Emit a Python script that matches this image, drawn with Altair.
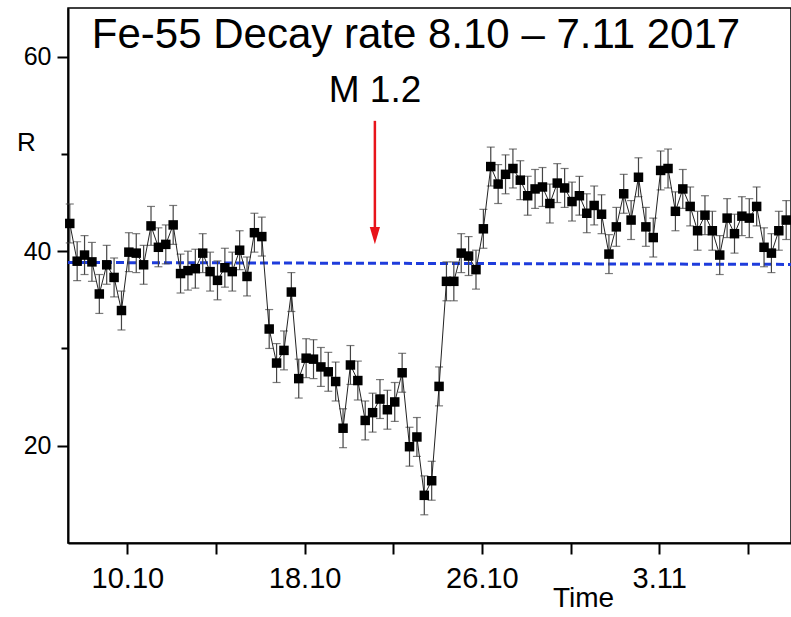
import altair as alt
import pandas as pd

# ---- data ----
start_day = 7.40          # day-of-October of first sample
step_day = 1.0 / 3.0      # samples every 8 hours
R = [42.85, 38.97, 39.6, 38.9, 35.6, 38.6, 37.3, 33.9, 39.9, 39.8,
     38.6, 42.6, 40.4, 40.7, 42.7, 37.7, 38.0, 38.2, 39.8, 37.9,
     37.0, 38.3, 37.9, 40.1, 37.4, 41.9, 41.5, 32.0, 28.5, 29.8,
     35.8, 26.9, 29.0, 28.9, 28.1, 27.6, 26.6, 21.8, 28.3, 26.7,
     22.6, 23.4, 24.8, 23.7, 24.5, 27.5, 19.9, 20.9, 14.9, 16.4,
     26.1, 36.9, 36.9, 39.8, 39.5, 38.1, 42.3, 48.7, 46.9, 47.9,
     48.5, 47.3, 45.7, 46.4, 46.6, 44.9, 47.0, 46.5, 45.1, 45.7,
     43.9, 44.7, 43.8, 39.7, 42.5, 45.9, 43.2, 47.6, 42.5, 41.4,
     48.3, 48.5, 44.1, 46.4, 44.6, 42.1, 43.7, 42.1, 39.6, 43.4,
     41.8, 43.6, 43.4, 44.6, 40.4, 39.8, 42.1, 43.2]
R_err = 2.0

base_day = [7.32, 39.95]
base_R = [38.84, 38.64]

flare_day = [21.17]
arrow_top = [53.4]
arrow_tip = [41.6]

tick_days = [10, 14, 18, 22, 26, 30, 34, 38]
tick_labels = ["10.10", "", "18.10", "", "26.10", "", "3.11", ""]

title_text = "Fe-55 Decay rate 8.10 \u2013 7.11 2017"
flare_text = "M 1.2"

FONT = "Liberation Sans"

days = [start_day + i * step_day for i in range(len(R))]
df = pd.DataFrame({"day": days, "R": R})
df["lo"] = df["R"] - R_err
df["hi"] = df["R"] + R_err

label_expr = " : ".join(
    f"datum.value == {d} ? '{l}'" for d, l in zip(tick_days, tick_labels)
) + " : ''"

xscale = alt.Scale(domain=[7.32, 39.95], nice=False, zero=False)
yscale = alt.Scale(domain=[10, 65], nice=False, zero=False)

xaxis = alt.Axis(values=tick_days, labelExpr=label_expr, grid=False,
                 tickSize=11, tickWidth=2, tickColor="black",
                 domainColor="black", domainWidth=2,
                 labelFont=FONT, labelFontSize=29, labelColor="black",
                 labelPadding=10, labelAngle=0,
                 title="Time", titleFont=FONT, titleFontSize=28,
                 titleFontWeight="normal", titleColor="black",
                 titleX=515, titleY=63, titleAlign="center",
                 titleBaseline="alphabetic")

yaxis = alt.Axis(values=[20, 30, 40, 50, 60],
                 labelExpr="datum.value % 20 == 0 ? datum.label : ''",
                 grid=False,
                 tickSize=alt.condition("datum.value % 20 == 0", alt.value(11), alt.value(7)),
                 tickWidth=2, tickColor="black",
                 domainColor="black", domainWidth=2,
                 labelFont=FONT, labelFontSize=25, labelColor="black",
                 labelPadding=6,
                 title="R", titleFont=FONT, titleFontSize=26,
                 titleFontWeight="normal", titleColor="black", titleAngle=0,
                 titleX=-42, titleY=142, titleAlign="center",
                 titleBaseline="alphabetic")

x = alt.X("day:Q", scale=xscale, axis=xaxis)
y = alt.Y("R:Q", scale=yscale, axis=yaxis)

base_df = pd.DataFrame({"day": base_day, "R": base_R})
baseline = alt.Chart(base_df).mark_line(
    color="#1e3cdc", strokeWidth=3, strokeDash=[8, 4]
).encode(x=x, y=y)

ERR_COLOR = "#444444"
err_rule = alt.Chart(df).mark_rule(color=ERR_COLOR, strokeWidth=1.2).encode(
    x=x, y=alt.Y("lo:Q", scale=yscale), y2="hi:Q")
cap_lo = alt.Chart(df).mark_tick(color=ERR_COLOR, orient="horizontal",
                                 size=8, thickness=1.2).encode(
    x=x, y=alt.Y("lo:Q", scale=yscale))
cap_hi = alt.Chart(df).mark_tick(color=ERR_COLOR, orient="horizontal",
                                 size=8, thickness=1.2).encode(
    x=x, y=alt.Y("hi:Q", scale=yscale))

line = alt.Chart(df).mark_line(color="#222222", strokeWidth=1).encode(x=x, y=y)
pts = alt.Chart(df).mark_point(shape="square", filled=True, size=90,
                               color="black", opacity=1).encode(x=x, y=y)

arr_df = pd.DataFrame({"day": flare_day, "top": arrow_top, "tip": arrow_tip})
arrow_line = alt.Chart(arr_df).mark_rule(color="#e8141b", strokeWidth=2.5).encode(
    x=alt.X("day:Q", scale=xscale), y=alt.Y("top:Q", scale=yscale), y2="tip:Q")
arrow_head = alt.Chart(arr_df).mark_point(
    shape="M-0.6,-1L0.6,-1L0,1Z", filled=True, size=290,
    color="#e8141b", opacity=1).encode(
    x=alt.X("day:Q", scale=xscale), y=alt.Y("tip:Q", scale=yscale))

title = alt.Chart(pd.DataFrame({"t": [title_text]})).mark_text(
    font=FONT, fontSize=42, color="black", align="center", baseline="alphabetic"
).encode(text="t:N", x=alt.value(348), y=alt.value(40))

flare = alt.Chart(pd.DataFrame({"t": [flare_text]})).mark_text(
    font=FONT, fontSize=37, color="black", align="center", baseline="alphabetic"
).encode(text="t:N", x=alt.value(307), y=alt.value(94))

chart = alt.layer(
    baseline, err_rule, cap_lo, cap_hi, line, pts, arrow_line, arrow_head,
    title, flare
).properties(
    width=723, height=535,
    padding={"left": 68, "top": 8, "right": 0, "bottom": 74},
    autosize=alt.AutoSizeParams(type="none"),
    background="white",
).configure_view(stroke="black", strokeWidth=1.5)

chart.save("out.html", embed_options={"renderer": "svg", "actions": False})
